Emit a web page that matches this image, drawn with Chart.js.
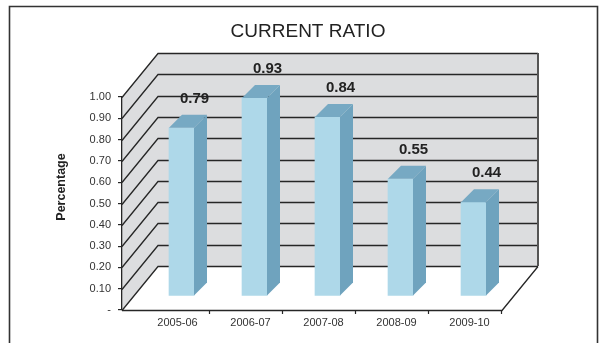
<!DOCTYPE html>
<html>
<head>
<meta charset="utf-8">
<script src="https://cdn.jsdelivr.net/npm/chart.js@4/dist/chart.umd.min.js"></script>
<style>
  html, body { margin: 0; padding: 0; background: #ffffff; }
  canvas { display: block; }
</style>
</head>
<body>
<canvas id="chart" width="599" height="343"></canvas>
<script>
// Current ratio by financial year
const years = ['2005-06', '2006-07', '2007-08', '2008-09', '2009-10'];
const currentRatio = [0.79, 0.93, 0.84, 0.55, 0.44];
const chartTitle = 'CURRENT RATIO';
const axisTitle = 'Percentage';

// 3D box geometry (pixels)
const DEPTH_X = 36, DEPTH_Y = -44;     // wall depth
const BAR_SHIFT_X = 23, BAR_SHIFT_Y = -14; // bars stand part-way into the box
const BAR_SIDE = 13;                    // bar depth
const FLOOR_EXTRA = 15;                 // floor reaches past the last category

const FRONT = '#AED8E9', SIDE = '#6FA3BE', TOP = '#77A9C3';
const WALL = '#DCDDDF', LINE = '#262626';

const box3d = {
  id: 'box3d',
  beforeDraw(chart) {
    const ctx = chart.ctx;
    const y = chart.scales.y, a = chart.chartArea;
    const L = a.left, R = a.right + FLOOR_EXTRA;
    const y0 = y.getPixelForValue(0), y1 = y.getPixelForValue(1);

    ctx.save();
    // outer frame
    ctx.strokeStyle = '#333';
    ctx.lineWidth = 1.6;
    ctx.beginPath();
    ctx.moveTo(9.5, 343); ctx.lineTo(9.5, 6.5); ctx.lineTo(597.5, 6.5); ctx.lineTo(597.5, 343);
    ctx.stroke();

    // left wall
    ctx.fillStyle = WALL;
    ctx.beginPath();
    ctx.moveTo(L, y0); ctx.lineTo(L, y1);
    ctx.lineTo(L + DEPTH_X, y1 + DEPTH_Y); ctx.lineTo(L + DEPTH_X, y0 + DEPTH_Y);
    ctx.closePath(); ctx.fill();
    // back wall
    ctx.fillRect(L + DEPTH_X, y1 + DEPTH_Y, R - L, y0 - y1);

    // grid lines running along both walls
    ctx.strokeStyle = LINE;
    ctx.lineWidth = 1.3;
    for (let i = 0; i <= 10; i++) {
      const gy = Math.round(y.getPixelForValue(i / 10)) + 0.5;
      ctx.beginPath();
      ctx.moveTo(L, gy);
      ctx.lineTo(L + DEPTH_X, gy + DEPTH_Y);
      ctx.lineTo(R + DEPTH_X, gy + DEPTH_Y);
      ctx.stroke();
    }
    // floor edges
    ctx.beginPath();
    ctx.moveTo(L, y0 + 0.5); ctx.lineTo(R, y0 + 0.5);
    ctx.lineTo(R + DEPTH_X, y0 + 0.5 + DEPTH_Y);
    ctx.stroke();
    // back wall right edge
    ctx.strokeStyle = '#555';
    ctx.lineWidth = 2;
    ctx.beginPath();
    ctx.moveTo(R + DEPTH_X, y0 + DEPTH_Y); ctx.lineTo(R + DEPTH_X, y1 + DEPTH_Y);
    ctx.stroke();

    // category tick marks on the floor front edge
    const x = chart.scales.x;
    const step = x.getPixelForValue(1) - x.getPixelForValue(0);
    ctx.strokeStyle = LINE;
    ctx.lineWidth = 1.2;
    for (let i = 0; i < years.length; i++) {
      const tx = Math.round(x.getPixelForValue(i) + step / 2 + 14) + 0.5;
      ctx.beginPath();
      ctx.moveTo(tx, y0); ctx.lineTo(tx, y0 + 4);
      ctx.stroke();
    }
    ctx.restore();
  },
  beforeDatasetsDraw(chart) {
    chart.ctx.save();
    chart.ctx.translate(BAR_SHIFT_X, BAR_SHIFT_Y);
  },
  afterDatasetsDraw(chart) {
    const ctx = chart.ctx;
    const meta = chart.getDatasetMeta(0);
    meta.data.forEach((bar) => {
      const half = bar.width / 2;
      const l = bar.x - half, r = bar.x + half;
      // side face
      ctx.fillStyle = SIDE;
      ctx.beginPath();
      ctx.moveTo(r, bar.base); ctx.lineTo(r, bar.y);
      ctx.lineTo(r + BAR_SIDE, bar.y - BAR_SIDE); ctx.lineTo(r + BAR_SIDE, bar.base - BAR_SIDE);
      ctx.closePath(); ctx.fill();
      // top face
      ctx.fillStyle = TOP;
      ctx.beginPath();
      ctx.moveTo(l, bar.y); ctx.lineTo(r, bar.y);
      ctx.lineTo(r + BAR_SIDE, bar.y - BAR_SIDE); ctx.lineTo(l + BAR_SIDE, bar.y - BAR_SIDE);
      ctx.closePath(); ctx.fill();
    });
    // value labels
    ctx.fillStyle = '#222';
    ctx.font = 'bold 15px "Liberation Sans", Arial, sans-serif';
    ctx.textAlign = 'center';
    ctx.textBaseline = 'middle';
    meta.data.forEach((bar, i) => {
      ctx.fillText(currentRatio[i].toFixed(2), bar.x + 13, bar.y - 29);
    });
    ctx.restore();
  },
  afterDraw(chart) {
    const ctx = chart.ctx;
    ctx.save();
    ctx.fillStyle = '#222';
    ctx.textAlign = 'center';
    ctx.textBaseline = 'middle';
    ctx.font = '19px "Liberation Sans", Arial, sans-serif';
    ctx.fillText(chartTitle, 308, 32);
    ctx.translate(62, 187);
    ctx.rotate(-Math.PI / 2);
    ctx.font = 'bold 12.5px "Liberation Sans", Arial, sans-serif';
    ctx.fillText(axisTitle, 0, 0);
    ctx.restore();
  }
};

new Chart(document.getElementById('chart'), {
  type: 'bar',
  data: {
    labels: years,
    datasets: [{
      data: currentRatio,
      backgroundColor: FRONT,
      borderWidth: 0,
      barThickness: 25,
      clip: false
    }]
  },
  options: {
    responsive: false,
    animation: false,
    devicePixelRatio: 1,
    layout: { padding: { left: 0, top: 97, right: 112, bottom: 0 } },
    plugins: { legend: { display: false }, tooltip: { enabled: false }, title: { display: false } },
    scales: {
      x: {
        afterFit(scale) { scale.height = 33; },
        grid: { display: false, drawTicks: false, tickLength: 0 },
        border: { display: false },
        ticks: {
          color: '#333',
          font: { family: '"Liberation Sans", Arial, sans-serif', size: 11 },
          labelOffset: 19,
          padding: 6,
          maxRotation: 0
        }
      },
      y: {
        min: 0,
        max: 1,
        afterFit(scale) { scale.width = 122; },
        grid: { drawOnChartArea: false, tickLength: 4, color: LINE, lineWidth: 1.2 },
        border: { display: true, color: LINE, width: 1.3 },
        ticks: {
          stepSize: 0.1,
          padding: 7,
          color: '#333',
          font: { family: '"Liberation Sans", Arial, sans-serif', size: 11 },
          callback: (v) => (Math.abs(v) < 1e-9 ? '-' : Number(v).toFixed(2))
        }
      }
    }
  },
  plugins: [box3d]
});
</script>
</body>
</html>
